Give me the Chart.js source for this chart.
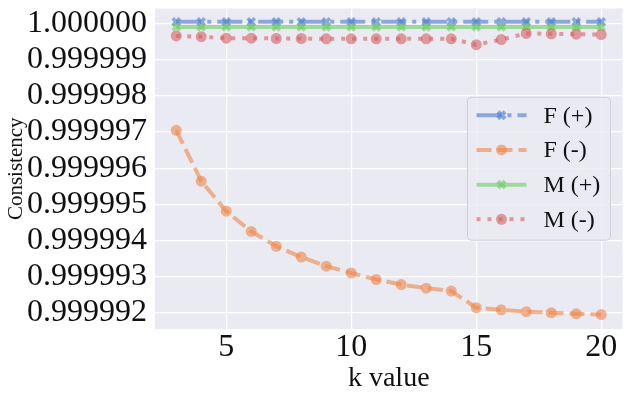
<!DOCTYPE html>
<html>
<head>
<meta charset="utf-8">
<script src="https://cdn.jsdelivr.net/npm/chart.js@4.4.1/dist/chart.umd.min.js"></script>
<style>
  html, body { margin: 0; padding: 0; background: #ffffff; }
  #wrap { width: 631px; height: 397px; }
</style>
</head>
<body>
<div id="wrap"><canvas id="consistencyChart" width="631" height="397"></canvas></div>
<script>
// values
const kValues = [3, 4, 5, 6, 7, 8, 9, 10, 11, 12, 13, 14, 15, 16, 17, 18, 19, 20];
const fPlus = [1.00000005, 1.00000005, 1.00000005, 1.00000005, 1.00000005, 1.00000005, 1.00000005, 1.00000005, 1.00000005,
               1.00000005, 1.00000005, 1.00000005, 1.00000005, 1.00000005, 1.00000005, 1.00000005, 1.00000005, 1.00000005];
const fMinus = [0.99999705, 0.99999564, 0.99999481, 0.99999425, 0.99999384, 0.99999354, 0.99999329, 0.9999931, 0.99999292,
                0.99999278, 0.99999268, 0.9999926, 0.99999214, 0.99999208, 0.99999203, 0.999992, 0.99999197, 0.99999195];
const mPlus = [0.99999991, 0.99999991, 0.99999991, 0.99999991, 0.99999991, 0.99999991, 0.99999991, 0.99999991, 0.99999991,
               0.99999991, 0.99999991, 0.99999991, 0.99999991, 0.99999991, 0.99999991, 0.99999991, 0.99999991, 0.99999991];
const mMinus = [0.99999966, 0.99999964, 0.9999996, 0.9999996, 0.99999959, 0.99999959, 0.99999958, 0.99999958, 0.99999958,
                0.99999958, 0.99999958, 0.99999958, 0.99999942, 0.99999956, 0.99999973, 0.99999972, 0.99999971, 0.9999997];
const seriesNames = ['F (+)', 'F (-)', 'M (+)', 'M (-)'];
const xTicks = [5, 10, 15, 20];
const yTicks = [0.999992, 0.999993, 0.999994, 0.999995, 0.999996, 0.999997, 0.999998, 0.999999, 1.0];

const serif = "'Liberation Serif', 'Times New Roman', serif";

function toPoints(vals) {
    return vals.map((v, i) => ({ x: kValues[i], y: v }));
}

// seaborn "muted" colours, alpha 0.6
const blue = 'rgba(72,120,208,0.6)';
const orange = 'rgba(238,133,74,0.6)';
const green = 'rgba(106,204,100,0.6)';
const red = 'rgba(214,95,95,0.6)';

function makeSet(name, vals, color, dash, style, order) {
    const cross = style === 'crossRot';
    return {
        label: name,
        data: toPoints(vals),
        borderColor: color,
        backgroundColor: color,
        borderWidth: 4,
        borderDash: dash,
        borderCapStyle: 'butt',
        pointStyle: style,
        pointRadius: cross ? 5 : 5.5,
        pointBorderWidth: cross ? 3.5 : 0,
        pointBackgroundColor: color,
        pointBorderColor: color,
        tension: 0,
        order: order
    };
}

const datasets = [
    makeSet(seriesNames[0], fPlus, blue, [25, 6, 4, 6], 'crossRot', 4),
    makeSet(seriesNames[1], fMinus, orange, [15, 6], 'circle', 3),
    makeSet(seriesNames[2], mPlus, green, [], 'crossRot', 2),
    makeSet(seriesNames[3], mMinus, red, [4, 7], 'circle', 1)
];

// grey plot background like seaborn darkgrid
const plotBackground = {
    id: 'plotBackground',
    beforeDraw(chart) {
        const a = chart.chartArea;
        const c = chart.ctx;
        c.save();
        c.fillStyle = '#eaeaf2';
        c.fillRect(a.left, a.top, a.right - a.left, a.bottom - a.top);
        c.restore();
    }
};

// legend drawn inside the plot, centre right
const innerLegend = {
    id: 'innerLegend',
    afterDatasetsDraw(chart) {
        const a = chart.chartArea;
        const c = chart.ctx;
        const w = 143, h = 143;
        const x0 = a.right - 12 - w;
        const y0 = (a.top + a.bottom) / 2 - h / 2;
        c.save();
        c.beginPath();
        c.roundRect(x0, y0, w, h, 4);
        c.fillStyle = 'rgba(234,234,242,0.8)';
        c.fill();
        c.strokeStyle = 'rgba(204,204,212,0.9)';
        c.lineWidth = 1;
        c.stroke();
        chart.data.datasets.forEach((ds, i) => {
            const cy = y0 + 18 + i * 34.7;
            c.save();
            c.strokeStyle = ds.borderColor;
            c.lineWidth = ds.borderWidth;
            c.setLineDash(ds.borderDash);
            c.beginPath();
            c.moveTo(x0 + 9, cy);
            c.lineTo(x0 + 59, cy);
            c.stroke();
            c.setLineDash([]);
            c.fillStyle = ds.pointBackgroundColor;
            c.strokeStyle = ds.pointBorderColor;
            Chart.helpers.drawPoint(c, {
                pointStyle: ds.pointStyle,
                radius: ds.pointRadius,
                borderWidth: ds.pointBorderWidth,
                rotation: 0
            }, x0 + 34, cy);
            c.restore();
            c.fillStyle = '#111111';
            c.font = '24px ' + serif;
            c.textBaseline = 'middle';
            c.textAlign = 'left';
            c.fillText(ds.label, x0 + 76, cy + 1);
        });
        c.restore();
    }
};

const ctx = document.getElementById('consistencyChart').getContext('2d');
const consistencyChart = new Chart(ctx, {
    type: 'line',
    data: { datasets: datasets },
    options: {
        responsive: false,
        animation: false,
        layout: { padding: { left: 4, right: 5, top: 3, bottom: 4 } },
        plugins: {
            legend: { display: false },
            tooltip: { enabled: false }
        },
        scales: {
            x: {
                type: 'linear',
                min: 2.15,
                max: 20.85,
                afterBuildTicks: (scale) => { scale.ticks = xTicks.map(v => ({ value: v })); },
                afterFit: (scale) => {
                    scale.height = 64;
                    scale.paddingLeft = 0;
                    scale.paddingRight = 0;
                },
                grid: { color: '#ffffff', lineWidth: 1.2, drawTicks: false },
                border: { display: false },
                ticks: {
                    color: '#111111',
                    padding: 3,
                    maxRotation: 0,
                    font: { family: serif, size: 32, lineHeight: 1 },
                    callback: (v) => String(v)
                },
                title: {
                    display: true,
                    text: 'k value',
                    color: '#111111',
                    font: { family: serif, size: 28, lineHeight: 1 },
                    padding: { top: 0, bottom: 0 }
                }
            },
            y: {
                type: 'linear',
                min: 0.99999155,
                max: 1.00000042,
                afterBuildTicks: (scale) => { scale.ticks = yTicks.map(v => ({ value: v })); },
                afterFit: (scale) => {
                    scale.width = 151;
                    scale.paddingTop = 0;
                    scale.paddingBottom = 0;
                },
                grid: { color: '#ffffff', lineWidth: 1.2, drawTicks: false },
                border: { display: false },
                ticks: {
                    color: '#111111',
                    padding: 8,
                    font: { family: serif, size: 32, lineHeight: 0.3 },
                    callback: (v) => Number(v).toFixed(6)
                },
                title: {
                    display: true,
                    text: 'Consistency',
                    color: '#111111',
                    font: { family: serif, size: 21, lineHeight: 1.2 },
                    padding: { top: 0, bottom: 0 }
                }
            }
        }
    },
    plugins: [plotBackground, innerLegend]
});
</script>
</body>
</html>
